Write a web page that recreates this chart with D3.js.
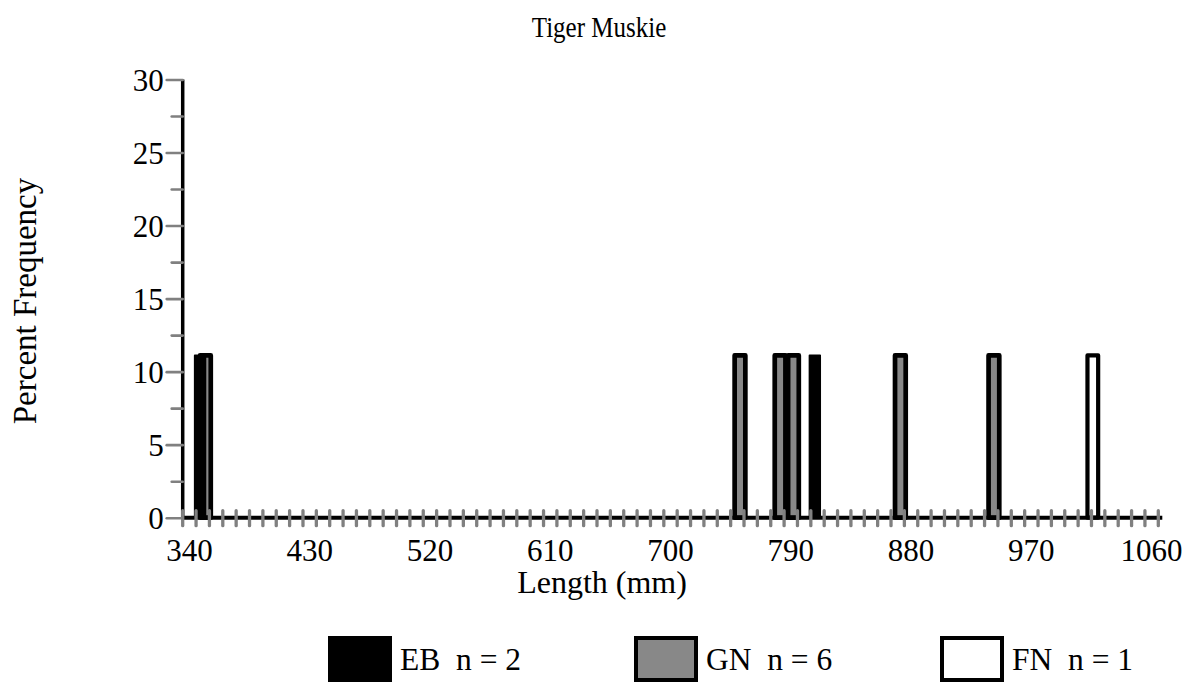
<!DOCTYPE html>
<html>
<head>
<meta charset="utf-8">
<script src="https://cdn.jsdelivr.net/npm/d3@7"></script>
<style>
  html, body { margin: 0; padding: 0; background: #fff; }
  svg { display: block; }
  text { font-family: "Liberation Serif", "Times New Roman", serif; fill: #000; }
</style>
</head>
<body>
<svg id="chart" width="1191" height="684"></svg>
<script>
// ---------------- DATA ----------------
const categories = [340,350,360,370,380,390,400,410,420,430,440,450,460,470,480,490,500,510,520,530,
  540,550,560,570,580,590,600,610,620,630,640,650,660,670,680,690,700,710,720,730,740,750,760,770,780,
  790,800,810,820,830,840,850,860,870,880,890,900,910,920,930,940,950,960,970,980,990,1000,1010,1020,
  1030,1040,1050,1060];
const xTickLabels = [340, 430, 520, 610, 700, 790, 880, 970, 1060];
const yMajorTicks = [0, 5, 10, 15, 20, 25, 30];
const yMinorTicks = [2.5, 7.5, 12.5, 17.5, 22.5, 27.5];

const seriesNames = ["EB", "GN", "FN"];
const seriesCounts = [2, 6, 1];
const ebBins = [350, 810];
const ebPct  = [11.11, 11.11];
const gnBins = [350, 750, 780, 790, 870, 940];
const gnPct  = [11.11, 11.11, 11.11, 11.11, 11.11, 11.11];
const fnBins = [1010];
const fnPct  = [11.11];

const titleText = "Tiger Muskie";
const xTitle = "Length (mm)";
const yTitle = "Percent Frequency";

// ---------------- LAYOUT ----------------
(function () {
const svg = d3.select("#chart");
const pL = 182.7, pR = 1158.3, pT = 79.5, pB = 517.7;
const FONT = 31;

const x = d3.scaleBand().domain(categories).range([pL, pR]).paddingInner(0).paddingOuter(0);
const y = d3.scaleLinear().domain([0, 30]).range([pB, pT]);
const bw = x.bandwidth();
const barW = 0.8 * bw;
const offset = d3.scaleLinear().domain([0, 1]).range([-0.2 * bw, 0.2 * bw]); // per series index

const styles = {
  EB: { fill: "#000", stroke: "#000", sw: 1.7 },
  GN: { fill: "#888888", stroke: "#000", sw: 4.7 },
  FN: { fill: "#fff", stroke: "#000", sw: 4.2 }
};

const series = [
  { name: "GN", idx: 1, bins: gnBins, vals: gnPct },
  { name: "EB", idx: 0, bins: ebBins, vals: ebPct },
  { name: "FN", idx: 2, bins: fnBins, vals: fnPct }
];

// Bars
const gBars = svg.append("g");
series.forEach(s => {
  const st = styles[s.name];
  gBars.selectAll(null)
    .data(s.bins.map((b, i) => ({ bin: b, v: s.vals[i] })))
    .enter().append("rect")
    .attr("x", d => x(d.bin) + bw / 2 + offset(s.idx) - barW / 2)
    .attr("y", d => y(d.v))
    .attr("width", barW)
    .attr("height", d => y(0) - y(d.v))
    .attr("fill", st.fill)
    .attr("stroke", st.stroke)
    .attr("stroke-width", st.sw)
    .attr("stroke-linejoin", "round");
});

// Y axis line
svg.append("line")
  .attr("x1", pL).attr("x2", pL)
  .attr("y1", y(30)).attr("y2", y(0))
  .attr("stroke", "#000").attr("stroke-width", 3.5);

// X axis line
svg.append("line")
  .attr("x1", pL).attr("x2", pR + 4)
  .attr("y1", y(0)).attr("y2", y(0))
  .attr("stroke", "#000").attr("stroke-width", 4);

// Y ticks
const yAxisMajor = d3.axisLeft(y).tickValues(yMajorTicks).tickSize(16).tickSizeOuter(0);
const gy = svg.append("g").attr("transform", `translate(${pL},0)`).call(yAxisMajor);
gy.select(".domain").remove();
gy.selectAll(".tick line").attr("stroke", "#808080").attr("stroke-width", 2.6).attr("stroke-linecap", "round");
gy.selectAll(".tick text")
  .attr("x", -19)
  .attr("dy", "0.35em")
  .style("font-family", '"Liberation Serif", "Times New Roman", serif')
  .style("font-size", FONT + "px")
  .attr("fill", "#000");

const gyMinor = svg.append("g").attr("transform", `translate(${pL},0)`)
  .call(d3.axisLeft(y).tickValues(yMinorTicks).tickSize(11).tickFormat(""));
gyMinor.select(".domain").remove();
gyMinor.selectAll(".tick line").attr("stroke", "#808080").attr("stroke-width", 2.6).attr("stroke-linecap", "round");

// X ticks at every category boundary (gray, crossing)
const boundaries = categories.map(c => x(c)).concat([x(categories[categories.length - 1]) + bw]);
svg.append("g").selectAll("line").data(boundaries).enter().append("line")
  .attr("x1", d => d).attr("x2", d => d)
  .attr("y1", y(0) - 7).attr("y2", y(0) + 8)
  .attr("stroke", "#808080").attr("stroke-width", 3.3).attr("stroke-linecap", "round");

// X tick labels
svg.append("g").selectAll("text").data(xTickLabels).enter().append("text")
  .attr("x", d => x(d) + bw / 2)
  .attr("y", 561)
  .attr("text-anchor", "middle")
  .style("font-size", FONT + "px")
  .text(d => d);

// Titles
svg.append("text").attr("transform", "translate(599,37) scale(1,1.18)").attr("text-anchor", "middle")
  .style("font-size", "25px").text(titleText);
svg.append("text").attr("x", 602).attr("y", 593).attr("text-anchor", "middle")
  .style("font-size", "32px").text(xTitle);
svg.append("text").attr("transform", "translate(36,301) rotate(-90)").attr("text-anchor", "middle")
  .style("font-size", "33px").text(yTitle);

// Legend
const legendX = [328, 634, 940];
const lg = svg.append("g");
seriesNames.forEach((n, i) => {
  const st = styles[n];
  lg.append("rect")
    .attr("x", legendX[i] + 2).attr("y", 638)
    .attr("width", 60).attr("height", 42)
    .attr("fill", st.fill)
    .attr("stroke", "#000").attr("stroke-width", 4);
  lg.append("text")
    .attr("x", legendX[i] + 72).attr("y", 670)
    .attr("xml:space", "preserve")
    .style("white-space", "pre")
    .style("font-size", "31.5px")
    .text(n + "  n = " + seriesCounts[i]);
});
})();
</script>
</body>
</html>
